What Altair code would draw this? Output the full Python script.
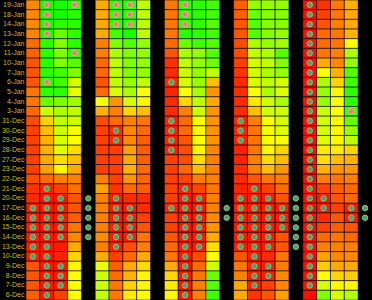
import altair as alt
import pandas as pd

dates = ["19-Jan", "18-Jan", "14-Jan", "13-Jan", "12-Jan", "11-Jan", "10-Jan", "7-Jan",
         "6-Jan", "5-Jan", "4-Jan", "3-Jan", "31-Dec", "30-Dec", "29-Dec", "28-Dec",
         "27-Dec", "23-Dec", "22-Dec", "21-Dec", "20-Dec", "17-Dec", "16-Dec", "15-Dec",
         "14-Dec", "13-Dec", "10-Dec", "9-Dec", "8-Dec", "7-Dec", "6-Dec"]

groups = ["A", "B", "C", "D", "E"]
all_cols = []
for g in groups:
    all_cols += [g + "1", g + "2", g + "3", g + "4", g + "_"]

# cell values as hue (0 = red, 60 = yellow, 120 = green), top row first
A1 = [32, 32, 32, 31, 25, 23, 20, 20, 20, 28, 28, 25, 18, 15, 15, 15, 15, 15, 18, 12, 10, 6, 6, 6, 6, 6, 6, 20, 20, 20, 22]
A2 = [115, 115, 115, 115, 110, 110, 110, 110, 110, 110, 95, 72, 50, 45, 42, 42, 40, 38, 25, 8, 5, 5, 5, 5, 5, 5, 5, 5, 5, 5, 5]
A3 = [115, 115, 110, 95, 90, 90, 90, 105, 105, 110, 90, 80, 75, 72, 70, 68, 52, 58, 30, 15, 5, 5, 5, 5, 5, 6, 8, 5, 5, 5, 15]
A4 = [110, 110, 110, 110, 110, 110, 100, 90, 70, 65, 82, 75, 72, 62, 60, 52, 45, 40, 30, 26, 20, 20, 22, 28, 32, 40, 50, 58, 60, 60, 60]
B1 = [40, 40, 40, 40, 30, 30, 25, 25, 20, 25, 62, 42, 18, 15, 15, 15, 15, 15, 30, 38, 30, 30, 30, 30, 33, 30, 40, 65, 72, 72, 75]
B2 = [110, 110, 110, 105, 90, 80, 75, 75, 75, 70, 35, 30, 25, 10, 10, 15, 15, 15, 15, 12, 6, 6, 6, 6, 6, 6, 15, 22, 25, 28, 28]
B3 = [110, 110, 110, 115, 100, 90, 90, 90, 85, 80, 70, 50, 30, 32, 32, 38, 40, 42, 35, 25, 10, 6, 6, 6, 6, 18, 25, 40, 42, 50, 55]
B4 = [75, 75, 75, 75, 85, 85, 85, 85, 75, 60, 58, 45, 28, 25, 22, 22, 22, 25, 24, 22, 10, 10, 15, 20, 28, 30, 40, 52, 58, 58, 60]
C1 = [28, 28, 28, 28, 25, 20, 12, 10, 10, 8, 10, 10, 8, 8, 8, 8, 15, 15, 15, 15, 15, 8, 15, 15, 20, 25, 28, 40, 50, 55, 58]
C2 = [110, 110, 108, 110, 95, 80, 75, 72, 70, 62, 50, 30, 25, 25, 20, 18, 18, 25, 16, 8, 5, 5, 5, 5, 5, 5, 5, 5, 5, 5, 5]
C3 = [110, 110, 110, 110, 105, 85, 85, 85, 85, 82, 75, 72, 60, 58, 60, 58, 52, 45, 30, 16, 6, 6, 6, 6, 6, 6, 18, 25, 28, 30, 30]
C4 = [105, 105, 100, 105, 100, 100, 95, 75, 45, 35, 40, 35, 35, 35, 35, 32, 30, 30, 30, 28, 30, 30, 32, 35, 40, 52, 60, 72, 95, 100, 105]
D1 = [22, 22, 20, 20, 18, 18, 15, 12, 10, 10, 10, 10, 8, 8, 8, 8, 8, 10, 10, 8, 6, 6, 6, 6, 6, 6, 20, 28, 30, 40, 40]
D2 = [85, 95, 100, 100, 80, 75, 70, 70, 70, 62, 55, 45, 30, 28, 28, 28, 30, 30, 20, 8, 6, 6, 6, 6, 6, 6, 6, 6, 6, 6, 12]
D3 = [85, 88, 88, 88, 85, 80, 75, 80, 75, 80, 72, 72, 62, 62, 60, 58, 52, 45, 28, 15, 6, 6, 6, 6, 6, 6, 10, 6, 6, 15, 20]
D4 = [85, 88, 88, 85, 82, 100, 90, 85, 70, 68, 80, 72, 70, 68, 62, 50, 45, 35, 30, 25, 20, 6, 6, 6, 20, 20, 28, 30, 32, 32, 38]
E1 = [3, 3, 3, 3, 3, 3, 3, 3, 3, 3, 3, 3, 3, 3, 3, 3, 3, 3, 3, 3, 3, 3, 3, 3, 3, 3, 3, 3, 3, 3, 3]
E2 = [12, 15, 20, 25, 25, 28, 40, 60, 80, 85, 85, 72, 70, 70, 68, 55, 52, 42, 30, 15, 6, 6, 10, 15, 25, 30, 38, 48, 60, 70, 90]
E3 = [28, 28, 30, 28, 28, 30, 32, 42, 50, 58, 60, 60, 58, 58, 58, 55, 45, 35, 28, 22, 20, 15, 20, 22, 28, 30, 32, 40, 50, 58, 70]
E4 = [42, 40, 40, 42, 60, 80, 85, 100, 105, 110, 110, 105, 95, 85, 75, 50, 42, 35, 30, 25, 25, 6, 6, 20, 25, 30, 32, 40, 48, 58, 78]

cell_cols = {"A1": A1, "A2": A2, "A3": A3, "A4": A4,
             "B1": B1, "B2": B2, "B3": B3, "B4": B4,
             "C1": C1, "C2": C2, "C3": C3, "C4": C4,
             "D1": D1, "D2": D2, "D3": D3, "D4": D4,
             "E1": E1, "E2": E2, "E3": E3, "E4": E4}

# marker rows (indices into dates)
green_rows = {
    "A1": [21, 22, 23, 24, 25, 26],
    "A2": [19, 20, 21, 22, 23, 24, 25, 26, 27, 28, 29, 30],
    "A3": [20, 21, 22, 23, 24, 27, 28, 29],
    "A_": [20, 21, 22, 23, 24],
    "B2": [13, 14, 20, 21, 22, 23, 24, 25],
    "B3": [21, 22, 23, 24],
    "C1": [8, 12, 13, 14, 15, 21],
    "C2": [19, 20, 21, 22, 23, 24, 25, 26, 27, 28, 29, 30],
    "C3": [20, 21, 22, 23, 24, 25],
    "C_": [21, 22],
    "D1": [12, 13, 14, 20, 21, 22, 23, 24, 25],
    "D2": [19, 20, 21, 22, 23, 24, 25, 26, 27, 28, 29],
    "D3": [20, 21, 22, 23, 24, 25, 27, 28],
    "D4": [21, 22, 23],
    "D_": [20, 21, 22, 23, 24, 25],
    "E1": [0, 1, 2, 3, 4, 5, 6, 7, 8, 9, 10, 11, 12, 13, 14, 15, 16, 17, 18, 19,
           20, 21, 22, 23, 24, 25, 26, 27, 28, 29],
    "E2": [20, 21],
    "E4": [21, 22],
    "E_": [21, 22],
}
pink_rows = {
    "A2": [0, 1, 2, 3, 8],
    "A4": [0, 5],
    "B2": [0, 1, 2],
    "B3": [0, 1, 2],
    "C2": [0, 1, 2],
    "E4": [11],
}

cell_records = []
for c, vals in cell_cols.items():
    for d, h in zip(dates, vals):
        cell_records.append({"col": c, "date": d, "hue": h})
cells = pd.DataFrame(cell_records)

mark_records = []
for c, idx in green_rows.items():
    for i in idx:
        mark_records.append({"col": c, "date": dates[i], "kind": "g"})
for c, idx in pink_rows.items():
    for i in idx:
        mark_records.append({"col": c, "date": dates[i], "kind": "p"})
markers = pd.DataFrame(mark_records)

x_enc = alt.X("col:N", scale=alt.Scale(domain=all_cols, paddingInner=0, paddingOuter=0), axis=None)
y_enc = alt.Y("date:N", sort=dates,
              scale=alt.Scale(domain=dates, paddingInner=0, paddingOuter=0),
              axis=alt.Axis(title=None, ticks=False, domain=False, grid=False,
                            labelColor="#d2b80c", labelFont="Liberation Sans",
                            labelFontSize=7, labelPadding=2))

heat = alt.Chart(cells).mark_rect(stroke="black", strokeWidth=1, strokeOpacity=0.55).encode(
    x=x_enc, y=y_enc,
    color=alt.Color("hue:Q", scale=alt.Scale(domain=[0, 120], range=["#ff0000", "#00ff00"],
                                             interpolate="hsl"), legend=None),
)

dots = alt.Chart(markers).mark_circle(size=30, opacity=1, strokeWidth=1).encode(
    x=x_enc, y=y_enc,
    fill=alt.Fill("kind:N", scale=alt.Scale(domain=["g", "p"], range=["#52a162", "#ee7878"]), legend=None),
    stroke=alt.Stroke("kind:N", scale=alt.Scale(domain=["g", "p"], range=["#80c48b", "#f6a8a8"]), legend=None),
)

chart = alt.layer(heat, dots).properties(
    width=346, height=300,
    padding={"left": 26, "right": 0, "top": 0, "bottom": 0},
    autosize=alt.AutoSizeParams(type="none"),
).configure(background="black").configure_view(strokeWidth=0)

chart.save("out.html", embed_options={"renderer": "svg", "actions": False})
